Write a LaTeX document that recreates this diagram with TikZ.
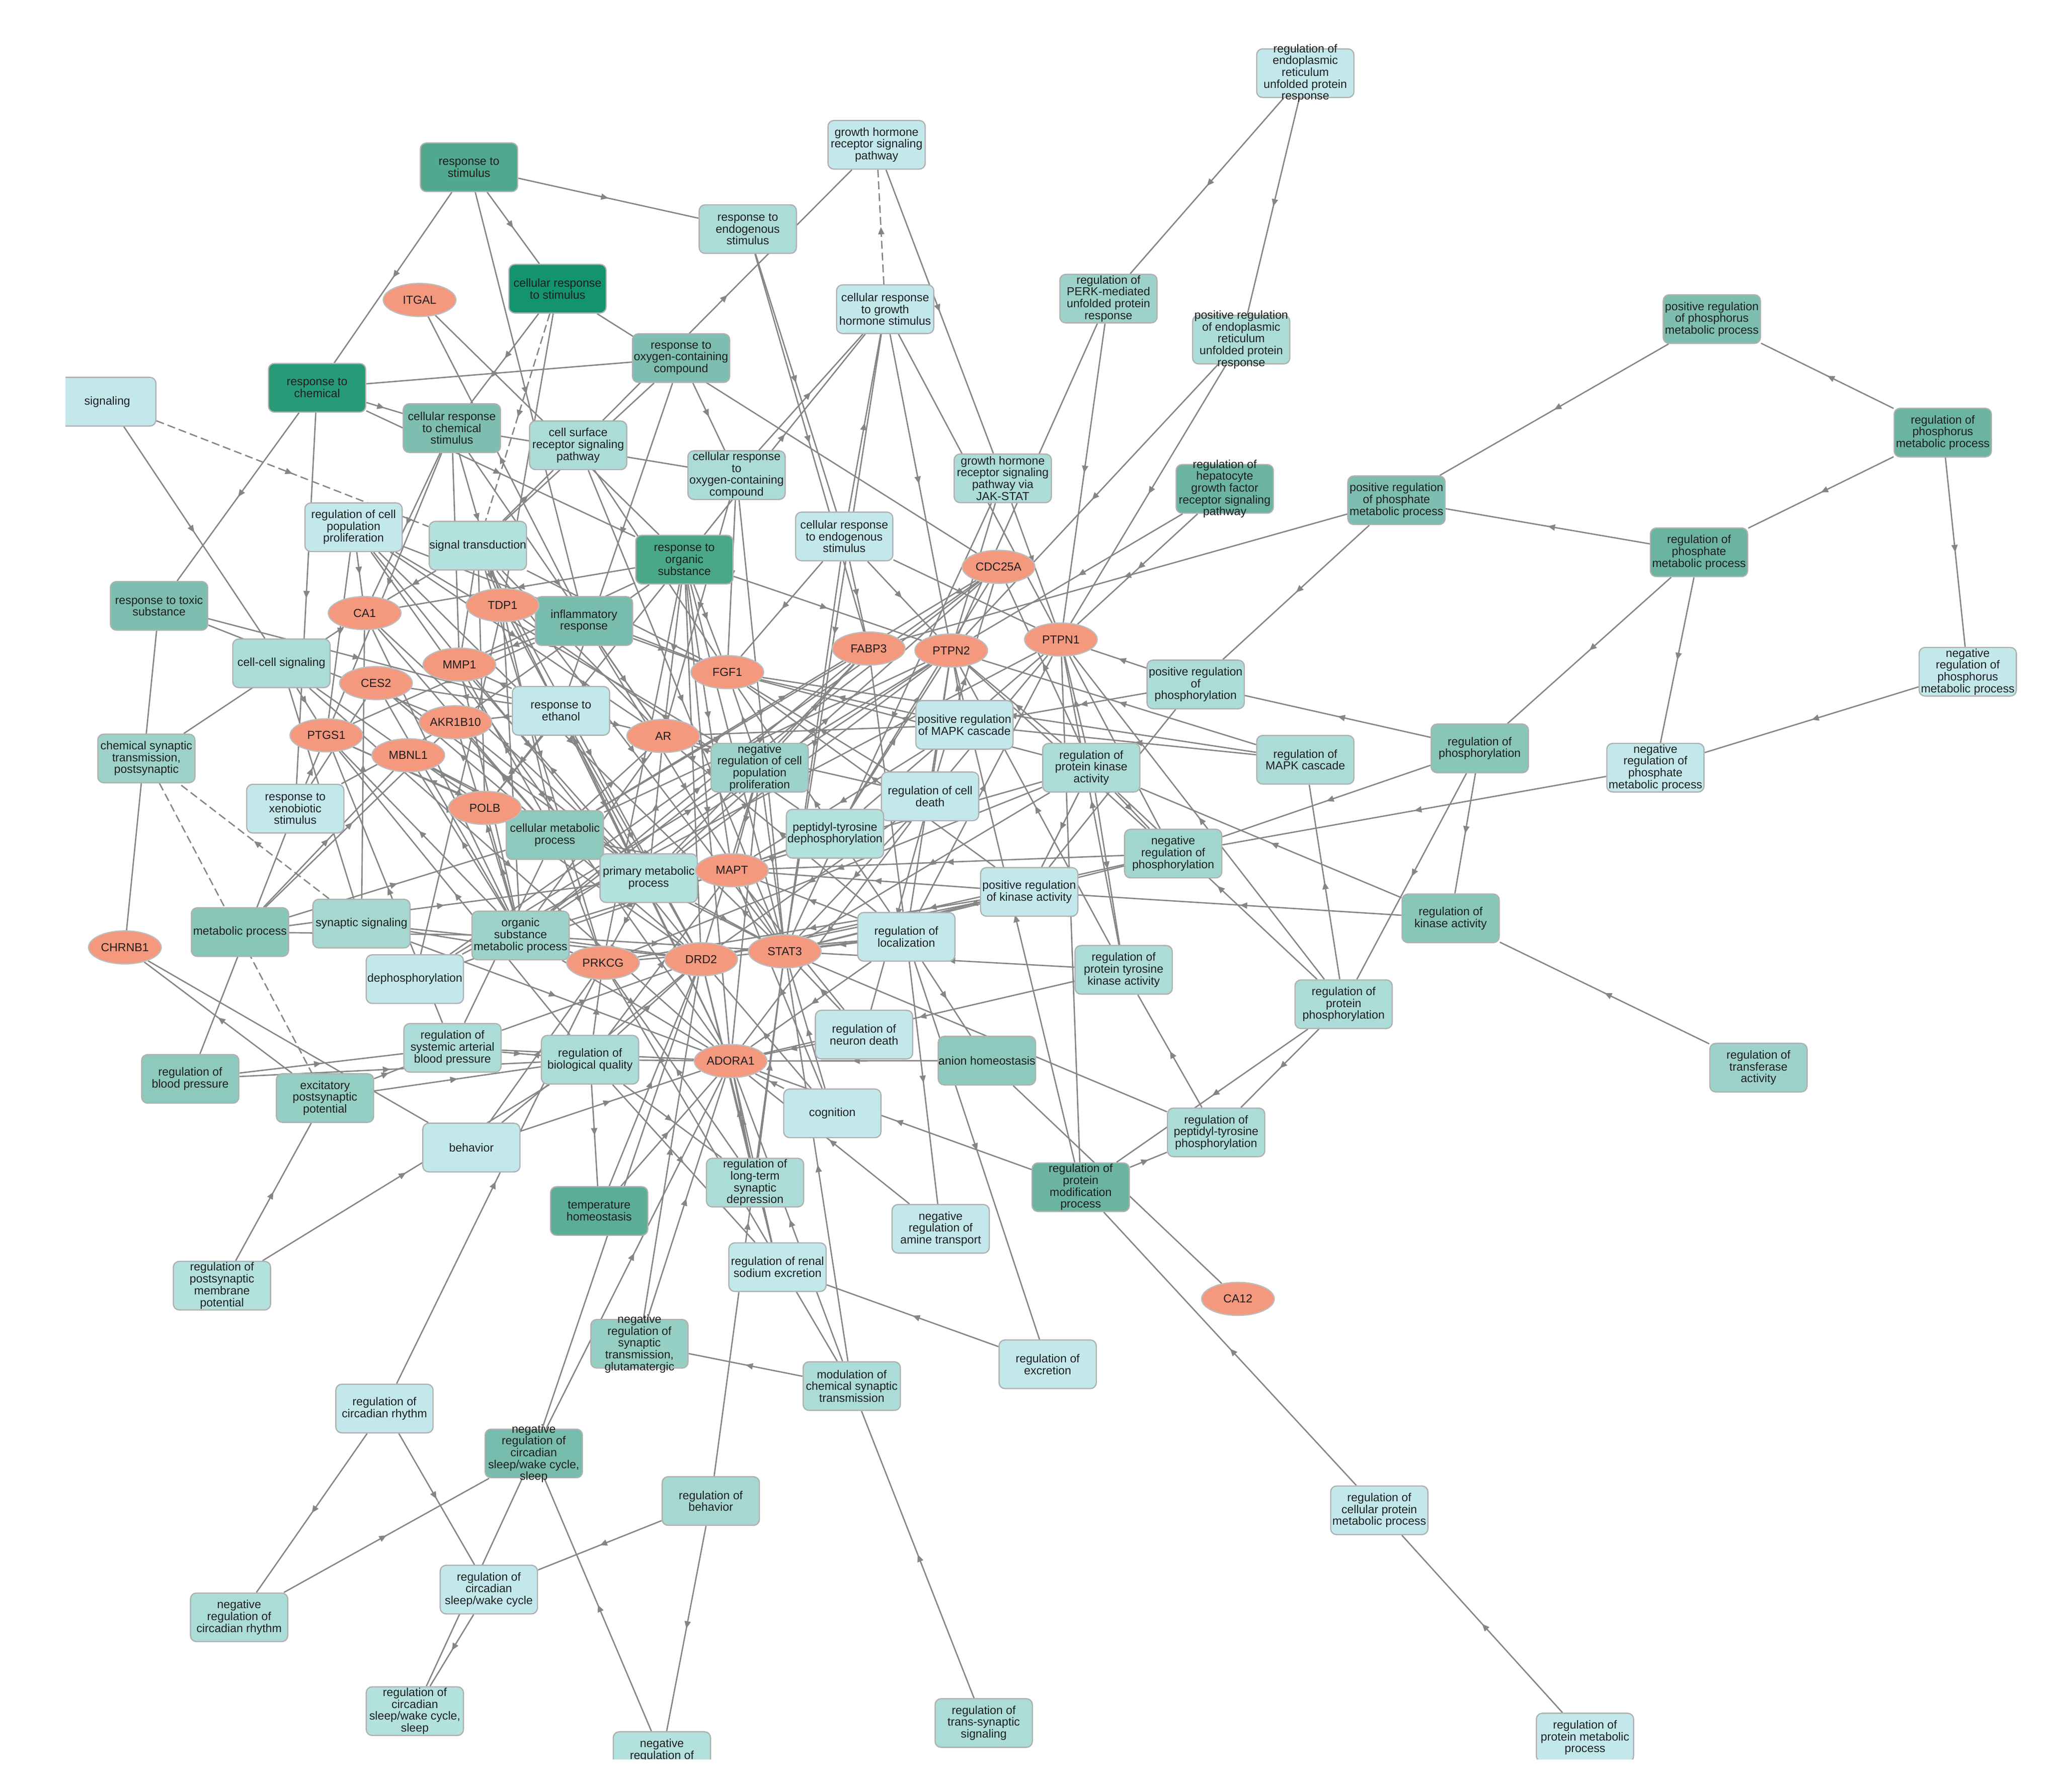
\documentclass[tikz,border=0pt]{standalone}
\usepackage{fontspec}
\newfontfamily\lsans{Liberation Sans}
\usetikzlibrary{shapes.geometric,arrows.meta,decorations.markings}
\definecolor{c1}{HTML}{C3E8EC}
\definecolor{c2}{HTML}{ACDCD7}
\definecolor{c2b}{HTML}{B3E1DD}
\definecolor{c2c}{HTML}{A6D8D1}
\definecolor{c3}{HTML}{9DD2CA}
\definecolor{c3b}{HTML}{A1D6CE}
\definecolor{c4}{HTML}{7DBEB0}
\definecolor{c4b}{HTML}{78BCAD}
\definecolor{c5}{HTML}{52A88E}
\definecolor{c5b}{HTML}{6BB4A2}
\definecolor{c5c}{HTML}{49A78A}
\definecolor{c5d}{HTML}{5BAD97}
\definecolor{c6}{HTML}{279A77}
\definecolor{c7}{HTML}{13946E}
\definecolor{c8}{HTML}{88C6B8}
\definecolor{c8b}{HTML}{8DC9BC}
\definecolor{c9}{HTML}{95CEC2}
\definecolor{genec}{HTML}{F4987E}
\definecolor{bordc}{HTML}{B0B0B0}
\definecolor{gbordc}{HTML}{BDBDBD}
\definecolor{edgec}{HTML}{858585}
\definecolor{txtc}{HTML}{1E1E1E}
\pgfdeclarelayer{bgl}
\pgfdeclarelayer{edges}
\pgfsetlayers{bgl,edges,main}
\tikzset{
  bx/.style={rectangle, rounded corners=4.5pt, minimum width=73.6pt, minimum height=36.8pt, inner sep=0pt, draw=bordc, line width=0.9pt},
  tx/.style={inner sep=0pt, align=center, font=\lsans\fontsize{8.8}{8.95}\selectfont, text=txtc},
  gn/.style={ellipse, minimum width=55pt, minimum height=25pt, inner sep=0pt, fill=genec, draw=gbordc, line width=0.9pt, font=\lsans\fontsize{8.8}{8.95}\selectfont, text=txtc},
  ep/.style={draw=edgec, line width=1pt},
  ea/.style={ep, postaction={decorate}, decoration={markings, mark=at position 0.5 with {\arrow{Triangle[length=5.5pt,width=4.6pt]}}}},
  ed/.style={ea, dash pattern=on 6pt off 3pt},
}
\newcommand\TB[5]{\node[bx,fill=#2] (#1) at (#3,#4) {}; \node[tx] (#1t) at (#3,#4) {#5};}
\newcommand\GN[4]{\node[gn] (#1) at (#2,#3) {#4};}
\begin{document}
\begin{tikzpicture}[x=1pt,y=-1pt]
\useasboundingbox (0,0) rectangle (1560,1356);
\begin{pgfonlayer}{bgl}
\fill[white] (0,0) rectangle (1560,1356);
\end{pgfonlayer}
% term boxes
\TB{erupr}{c1}{988}{55.4}{regulation of\\endoplasmic\\reticulum\\unfolded protein\\response}
\TB{ghr}{c1}{663.5}{109.6}{growth hormone\\receptor signaling\\pathway}
\TB{rstim}{c5}{355}{126.6}{response to\\stimulus}
\TB{rendo}{c2}{566}{173.4}{response to\\endogenous\\stimulus}
\TB{crstim}{c7}{422}{218.5}{cellular response\\to stimulus}
\TB{crgh}{c1}{670}{234}{cellular response\\to growth\\hormone stimulus}
\TB{perk}{c3}{839}{226}{regulation of\\PERK-mediated\\unfolded protein\\response}
\TB{prer}{c2}{939.5}{257}{positive regulation\\of endoplasmic\\reticulum\\unfolded protein\\response}
\TB{prphos}{c4}{1295.7}{241.5}{positive regulation\\of phosphorus\\metabolic process}
\TB{roxy}{c4}{515.5}{271}{response to\\oxygen-containing\\compound}
\TB{rchem}{c6}{240}{293.5}{response to\\chemical}
\TB{sig}{c1}{81.2}{304}{signaling}
\TB{crchem}{c4}{342}{324}{cellular response\\to chemical\\stimulus}
\TB{csr}{c2}{437.6}{337}{cell surface\\receptor signaling\\pathway}
\TB{rphos}{c5b}{1470.5}{327.4}{regulation of\\phosphorus\\metabolic process}
\TB{croxy}{c2}{557.5}{359.6}{cellular response\\to\\oxygen-containing\\compound}
\TB{jak}{c2}{759}{362}{growth hormone\\receptor signaling\\pathway via\\JAK-STAT}
\TB{hgf}{c5b}{927}{370}{regulation of\\hepatocyte\\growth factor\\receptor signaling\\pathway}
\TB{prphate}{c4}{1057}{378.6}{positive regulation\\of phosphate\\metabolic process}
\TB{rcpp}{c1}{267.6}{399}{regulation of cell\\population\\proliferation}
\TB{st}{c2b}{361.7}{413}{signal transduction}
\TB{crendo}{c1}{639}{406}{cellular response\\to endogenous\\stimulus}
\TB{rorg}{c5c}{518}{423.5}{response to\\organic\\substance}
\TB{rphate}{c5b}{1286}{418}{regulation of\\phosphate\\metabolic process}
\TB{rtox}{c4}{120.4}{458.5}{response to toxic\\substance}
\TB{infl}{c4b}{442}{470}{inflammatory\\response}
\TB{ccs}{c2}{213}{502}{cell-cell signaling}
\TB{pphosy}{c2}{905}{518}{positive regulation\\of\\phosphorylation}
\TB{nrphos}{c1}{1489.4}{508.4}{negative\\regulation of\\phosphorus\\metabolic process}
\TB{reth}{c1}{424.6}{538}{response to\\ethanol}
\TB{pmapk}{c1}{730}{548.6}{positive regulation\\of MAPK cascade}
\TB{cst}{c3}{110.8}{574}{chemical synaptic\\transmission,\\postsynaptic}
\TB{nrcpp}{c3}{575}{581}{negative\\regulation of cell\\population\\proliferation}
\TB{rpka}{c2}{826}{581}{regulation of\\protein kinase\\activity}
\TB{rmapk}{c2}{988}{575}{regulation of\\MAPK cascade}
\TB{rphosy}{c8}{1120}{566.4}{regulation of\\phosphorylation}
\TB{nrphate}{c1}{1253}{581}{negative\\regulation of\\phosphate\\metabolic process}
\TB{rcd}{c1}{704}{602.7}{regulation of cell\\death}
\TB{rxeno}{c1}{223.5}{612}{response to\\xenobiotic\\stimulus}
\TB{ptdp}{c2b}{632}{631}{peptidyl-tyrosine\\dephosphorylation}
\TB{cmp}{c8b}{420}{632}{cellular metabolic\\process}
\TB{nphosy}{c3b}{888}{646}{negative\\regulation of\\phosphorylation}
\TB{pmp}{c2b}{491}{664.6}{primary metabolic\\process}
\TB{pka}{c1}{779}{675}{positive regulation\\of kinase activity}
\TB{mp}{c8}{181.6}{705.4}{metabolic process}
\TB{ss}{c2c}{273.6}{699}{synaptic signaling}
\TB{rka}{c8}{1098}{695}{regulation of\\kinase activity}
\TB{osmp}{c3}{394}{708}{organic\\substance\\metabolic process}
\TB{rloc}{c1}{686}{709}{regulation of\\localization}
\TB{deph}{c1}{314}{741}{dephosphorylation}
\TB{rptka}{c2}{850.5}{734}{regulation of\\protein tyrosine\\kinase activity}
\TB{rpp}{c2}{1017}{760}{regulation of\\protein\\phosphorylation}
\TB{rsabp}{c2}{342.5}{793}{regulation of\\systemic arterial\\blood pressure}
\TB{rnd}{c1}{654}{783}{regulation of\\neuron death}
\TB{rbq}{c2}{446.6}{802}{regulation of\\biological quality}
\TB{anion}{c8b}{747}{802.7}{anion homeostasis}
\TB{rbp}{c8b}{144}{816.5}{regulation of\\blood pressure}
\TB{epsp}{c9}{246}{831}{excitatory\\postsynaptic\\potential}
\TB{cog}{c1}{630}{842.6}{cognition}
\TB{rta}{c3}{1331}{808}{regulation of\\transferase\\activity}
\TB{rpytp}{c2}{920.5}{857}{regulation of\\peptidyl-tyrosine\\phosphorylation}
\TB{beh}{c1}{356.8}{868.5}{behavior}
\TB{rpmp}{c5b}{818}{898.5}{regulation of\\protein\\modification\\process}
\TB{rltd}{c2}{571.5}{895}{regulation of\\long-term\\synaptic\\depression}
\TB{temp}{c5d}{453.5}{916.5}{temperature\\homeostasis}
\TB{nrat}{c1}{712}{930}{negative\\regulation of\\amine transport}
\TB{rrse}{c1}{588.5}{959}{regulation of renal\\sodium excretion}
\TB{rpmpot}{c2b}{168}{973}{regulation of\\postsynaptic\\membrane\\potential}
\TB{nrstg}{c9}{484}{1017}{negative\\regulation of\\synaptic\\transmission,\\glutamatergic}
\TB{rexc}{c1}{793}{1032.5}{regulation of\\excretion}
\TB{mcst}{c2}{644.7}{1049}{modulation of\\chemical synaptic\\transmission}
\TB{rcr}{c1}{291}{1066}{regulation of\\circadian rhythm}
\TB{nrcsw}{c4b}{404}{1100}{negative\\regulation of\\circadian\\sleep/wake cycle,\\sleep}
\TB{rbeh}{c2c}{538}{1136}{regulation of\\behavior}
\TB{rcpmp}{c1}{1044}{1143}{regulation of\\cellular protein\\metabolic process}
\TB{nrcr}{c2}{181}{1224}{negative\\regulation of\\circadian rhythm}
\TB{rcsw}{c1}{370}{1203}{regulation of\\circadian\\sleep/wake cycle}
\TB{rcsws}{c2b}{314}{1295}{regulation of\\circadian\\sleep/wake cycle,\\sleep}
\TB{rtss}{c2}{744.6}{1304}{regulation of\\trans-synaptic\\signaling}
\TB{rprmp}{c1}{1199.7}{1315}{regulation of\\protein metabolic\\process}
\node[bx,fill=c2b] (nrb) at (501,1329) {};
\node[tx] (nrbt) at (501,1324.5) {negative\\regulation of};
% genes
\GN{ITGAL}{317.6}{227}{ITGAL}
\GN{CDC25A}{755.8}{429}{CDC25A}
\GN{CA1}{276}{464}{CA1}
\GN{TDP1}{380.4}{458}{TDP1}
\GN{FABP3}{657.5}{490.8}{FABP3}
\GN{PTPN2}{720}{492.3}{PTPN2}
\GN{PTPN1}{803}{484}{PTPN1}
\GN{MMP1}{347.7}{503}{MMP1}
\GN{FGF1}{550.5}{508.7}{FGF1}
\GN{CES2}{284.6}{517}{CES2}
\GN{AKR1B10}{344.7}{546.6}{AKR1B10}
\GN{AR}{502}{557}{AR}
\GN{PTGS1}{247}{556.5}{PTGS1}
\GN{MBNL1}{309}{571.6}{MBNL1}
\GN{POLB}{367}{611.4}{POLB}
\GN{MAPT}{554}{658.6}{MAPT}
\GN{CHRNB1}{94.5}{717}{CHRNB1}
\GN{PRKCG}{456.4}{728.6}{PRKCG}
\GN{DRD2}{530.7}{726}{DRD2}
\GN{STAT3}{594}{720}{STAT3}
\GN{ADORA1}{553}{803}{ADORA1}
\GN{CA12}{937}{983}{CA12}
\begin{pgfonlayer}{edges}
\foreach \sa/\sb in {crstim/st, sig/st, ss/cst, cst/epsp, crgh/ghr} \draw[ed] (\sa) -- (\sb);
\foreach \sa/\sb in {crstim/CDC25A, crstim/TDP1, rtox/CHRNB1, CA1/cst, ITGAL/rorg, CHRNB1/beh} \draw[ep] (\sa) -- (\sb);
\foreach \sa/\sb in {rstim/rchem, rstim/crstim, rstim/rendo, rstim/infl, crstim/crchem, infl/ITGAL,
 rchem/roxy, rchem/crchem, rchem/rtox, rchem/rxeno, rchem/rorg, sig/ccs, rtox/reth, rtox/AKR1B10,
 ccs/ss, mp/osmp, mp/cmp, mp/pmp, rxeno/rbp, epsp/CHRNB1, rbp/rsabp, rbp/rbq, epsp/rsabp, epsp/rbq,
 rpmpot/epsp, rpmpot/rbq, rsabp/rbq, rsabp/DRD2, rsabp/ADORA1, rsabp/cmp, rbq/temp, rbq/rrse, rbq/rltd,
 temp/ADORA1, temp/DRD2, beh/DRD2, beh/ADORA1, rcr/PRKCG, rcr/nrcr, rcr/rcsw, nrcr/nrcsw, nrcsw/rcsws,
 rcsw/rcsws, rbeh/rcsw, nrb/nrcsw, rbeh/nrb, rbeh/STAT3, nrcsw/DRD2, nrcsw/ADORA1, nrstg/DRD2, nrstg/ADORA1,
 mcst/nrstg, mcst/PRKCG, mcst/ADORA1, mcst/STAT3, rtss/mcst, rexc/rrse, rloc/rexc, rrse/ADORA1, rrse/DRD2,
 rltd/ADORA1, rltd/DRD2, rltd/STAT3, cog/ADORA1, cog/DRD2, nrat/ADORA1, rloc/nrat, rcd/rnd, rnd/ADORA1,
 rnd/STAT3, rptka/ADORA1, anion/ADORA1, rpytp/STAT3, anion/CA12, rloc/anion, rpmp/rpytp, rcpmp/rpmp,
 rprmp/rcpmp, rpmp/ADORA1} \draw[ea] (\sa) -- (\sb);
\foreach \sa/\sb in {rka/pka, pka/MAPT, pka/STAT3, pka/DRD2, nrphate/nphosy, rphosy/nphosy, nphosy/STAT3,
 nphosy/DRD2, nphosy/MAPT, rpka/rptka, rptka/PTPN1, rpka/pka, rka/rpka, rpka/nphosy, rpka/MAPT, rpka/STAT3,
 rpka/PTPN2, rpka/PTPN1, rpka/FGF1, rmapk/pmapk, pphosy/pmapk, pmapk/FGF1, pmapk/AR, pmapk/MAPT, pmapk/PTPN2,
 rpp/rmapk, rphosy/pphosy, prphate/pphosy, pphosy/pka, pphosy/PTPN1, hgf/PTPN2, hgf/PTPN1, prer/PTPN2,
 prer/PTPN1, perk/PTPN1, perk/PTPN2, erupr/perk, erupr/prer, jak/PTPN1, jak/PTPN2, jak/STAT3, ghr/jak,
 crendo/crgh, croxy/crgh, rorg/crgh, rendo/crendo, rendo/FABP3, roxy/croxy, crchem/croxy, roxy/st, roxy/reth,
 csr/ghr, rorg/CA1, crchem/PTGS1, rorg/AR, prphate/FABP3, rphate/prphate, rphos/rphate, rphos/prphos,
 prphos/prphate, rphos/nrphos, rphate/rphosy, rphate/nrphate, nrphos/nrphate, rphosy/rka, rphosy/rpp,
 rta/rka, rpp/rpka, rpp/rpytp, rpp/rpmp, rpytp/rptka, st/csr, rcpp/nrcpp, ptdp/deph,
 rmapk/PTPN2, rorg/PTPN2, rpka/CDC25A} \draw[ea] (\sa) -- (\sb);
% gene fans
\foreach \sa/\sb in {crchem/CA1, st/CA1, rcpp/CA1, ss/CA1, osmp/CA1, cmp/CA1, pmp/CA1,
 crchem/TDP1, st/TDP1, cmp/TDP1, osmp/TDP1, pmp/TDP1, deph/TDP1, ptdp/TDP1,
 infl/MMP1, rorg/MMP1, crchem/MMP1, cmp/MMP1, osmp/MMP1, pmp/MMP1, reth/MMP1, st/MMP1,
 rxeno/CES2, cmp/CES2, osmp/CES2, pmp/CES2, reth/CES2,
 rxeno/AKR1B10, cmp/AKR1B10, osmp/AKR1B10, pmp/AKR1B10, rorg/AKR1B10, reth/AKR1B10, mp/AKR1B10,
 infl/PTGS1, rxeno/PTGS1, cmp/PTGS1, osmp/PTGS1, pmp/PTGS1, rbq/PTGS1, rcpp/PTGS1, ccs/PTGS1, rsabp/PTGS1,
 cmp/MBNL1, osmp/MBNL1, pmp/MBNL1, mp/MBNL1,
 cmp/POLB, osmp/POLB, pmp/POLB, rorg/POLB, st/POLB, reth/POLB} \draw[ea] (\sa) -- (\sb);
\foreach \sa/\sb in {ss/PRKCG, st/PRKCG, rorg/PRKCG, cmp/PRKCG, osmp/PRKCG, pmp/PRKCG, rbq/PRKCG, rltd/PRKCG,
 pka/PRKCG, rpka/PRKCG, rloc/PRKCG, beh/PRKCG,
 ss/DRD2, rorg/DRD2, reth/DRD2, st/DRD2, rcpp/DRD2, nrcpp/DRD2, rcd/DRD2, rloc/DRD2, rbq/DRD2, osmp/DRD2,
 ccs/DRD2, cmp/DRD2,
 rorg/STAT3, croxy/STAT3, crendo/STAT3, crgh/STAT3, st/STAT3, csr/STAT3, rcpp/STAT3, nrcpp/STAT3, rcd/STAT3,
 rloc/STAT3, infl/STAT3, rptka/STAT3, cog/STAT3, osmp/STAT3, cmp/STAT3, pmp/STAT3} \draw[ea] (\sa) -- (\sb);
\foreach \sa/\sb in {cmp/MAPT, pmp/MAPT, osmp/MAPT, rloc/MAPT, rnd/MAPT, cog/MAPT, rcd/MAPT, nrcpp/MAPT,
 rorg/MAPT, rbq/MAPT,
 ss/ADORA1, rbq/ADORA1, rorg/ADORA1, reth/ADORA1, st/ADORA1, rcpp/ADORA1, rcd/ADORA1, rloc/ADORA1,
 osmp/ADORA1, ccs/ADORA1, nrcpp/ADORA1,
 croxy/AR, infl/AR, reth/AR, crchem/AR, st/AR, rcpp/AR, nrcpp/AR, rcd/AR, rloc/AR, cmp/AR, pmp/AR, osmp/AR,
 croxy/FGF1, csr/FGF1, rorg/FGF1, crendo/FGF1, infl/FGF1, rmapk/FGF1, nrcpp/FGF1, rcd/FGF1, rloc/FGF1,
 pka/FGF1, rcpp/FGF1, st/FGF1} \draw[ea] (\sa) -- (\sb);
\foreach \sa/\sb in {crendo/FABP3, cmp/FABP3, pmp/FABP3, osmp/FABP3, rloc/FABP3, nrcpp/FABP3,
 crgh/PTPN2, crendo/PTPN2, ptdp/PTPN2, deph/PTPN2, nphosy/PTPN2, rptka/PTPN2, rcd/PTPN2, rloc/PTPN2,
 cmp/PTPN2, pmp/PTPN2, osmp/PTPN2, rpmp/PTPN2,
 ptdp/PTPN1, deph/PTPN1, nphosy/PTPN1, rpp/PTPN1, rcd/PTPN1, rpmp/PTPN1, crendo/PTPN1, rloc/PTPN1, crgh/PTPN1,
 ptdp/CDC25A, deph/CDC25A, pmp/CDC25A, osmp/CDC25A, rcd/CDC25A, cmp/CDC25A} \draw[ea] (\sa) -- (\sb);
\end{pgfonlayer}
% clipped edges of the drawing
\fill[white] (0,0) rectangle (49.6,1356);
\fill[white] (0,1331.6) rectangle (1560,1356);
\end{tikzpicture}
\end{document}
